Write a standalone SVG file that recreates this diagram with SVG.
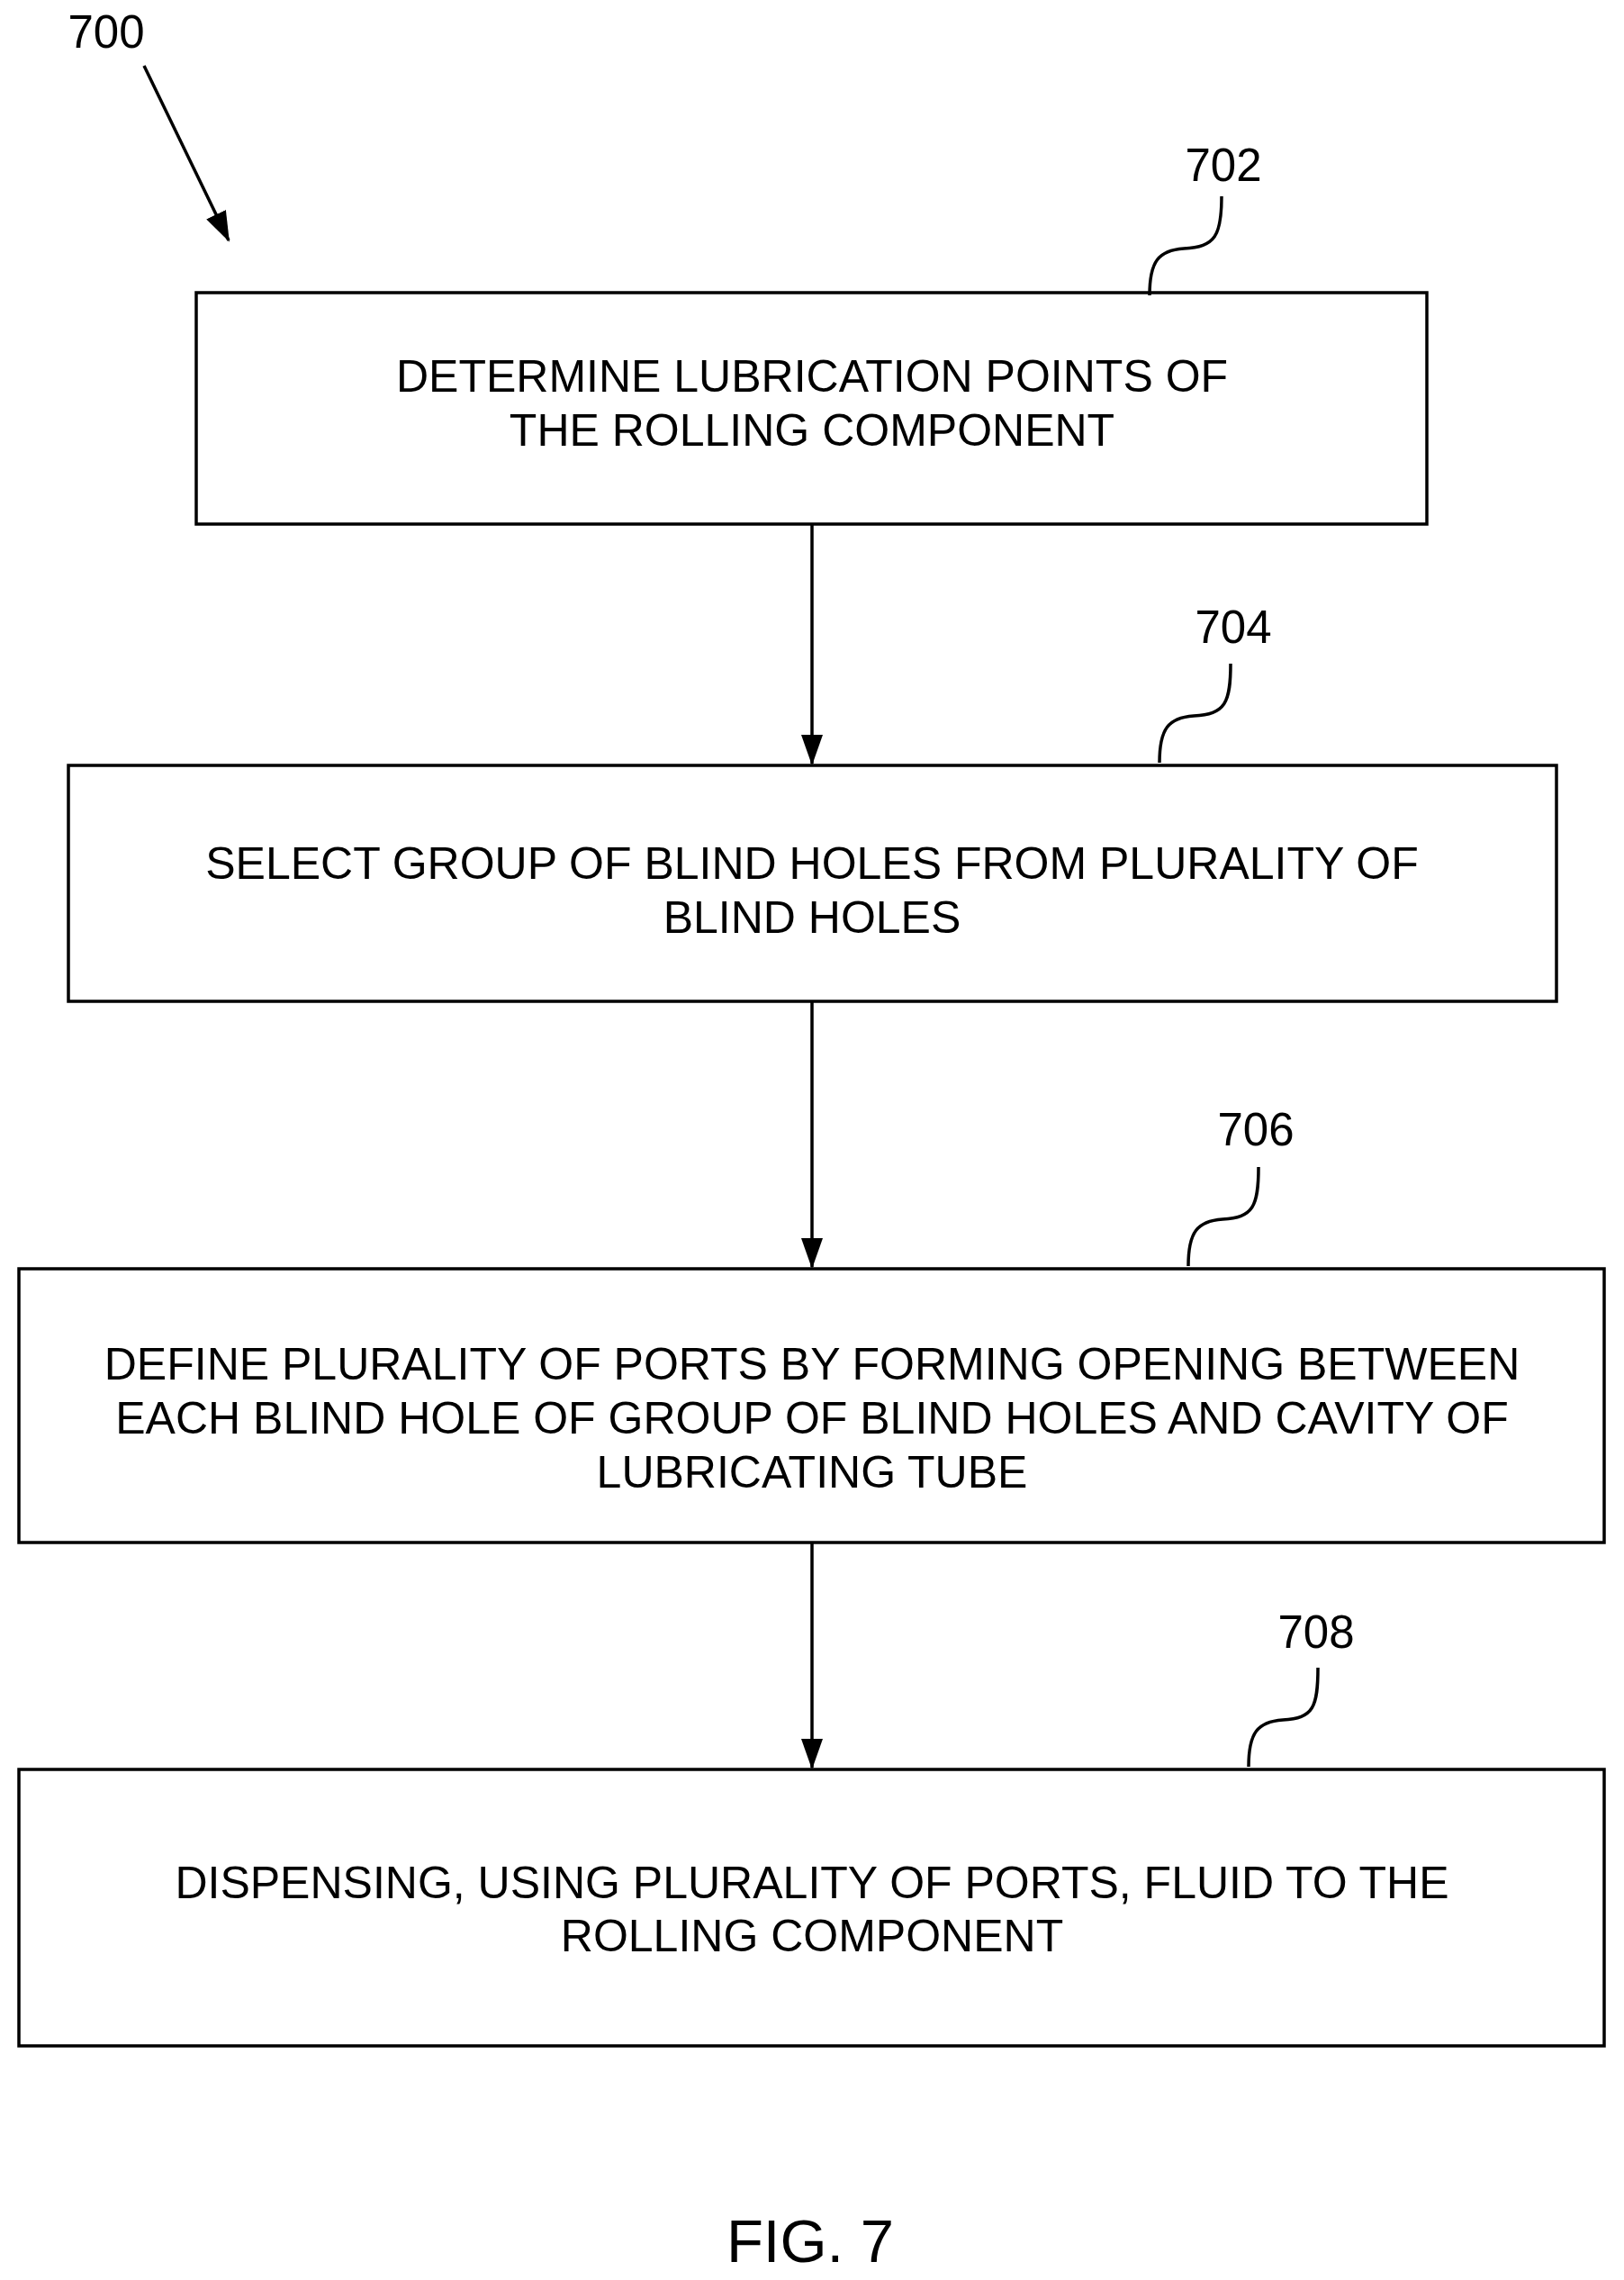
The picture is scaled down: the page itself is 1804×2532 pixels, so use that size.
<svg xmlns="http://www.w3.org/2000/svg" width="1804" height="2532" viewBox="0 0 1804 2532">
<style>
.box{fill:#fff;stroke:#000;stroke-width:3.5}
.t{font-family:"Liberation Sans",Arial,sans-serif;font-size:50px;text-anchor:middle;fill:#000}
.lbl{font-family:"Liberation Sans",Arial,sans-serif;font-size:51px;text-anchor:middle;fill:#000}
.c{stroke:#000;stroke-width:3.5;fill:none}
</style>
<defs>
<marker id="ah2" markerWidth="34" markerHeight="34" refX="32" refY="17" orient="auto" markerUnits="userSpaceOnUse" viewBox="0 0 34 34"><path d="M0,5 L34,17 L0,29z" fill="#000"/></marker></defs>
<rect width="1804" height="2532" fill="#fff"/>
<g id="n702"><rect class="box" x="218" y="325" width="1367" height="257"/><text class="t" x="902" y="435">DETERMINE LUBRICATION POINTS OF</text><text class="t" x="902" y="495">THE ROLLING COMPONENT</text><text class="lbl" x="1359" y="201">702</text></g>
<g id="n704"><rect class="box" x="76" y="850" width="1653" height="262"/><text class="t" x="902" y="976">SELECT GROUP OF BLIND HOLES FROM PLURALITY OF</text><text class="t" x="902" y="1036">BLIND HOLES</text><text class="lbl" x="1370" y="714">704</text></g>
<g id="n706"><rect class="box" x="21" y="1409" width="1761" height="304"/><text class="t" x="902" y="1532">DEFINE PLURALITY OF PORTS BY FORMING OPENING BETWEEN</text><text class="t" x="902" y="1592">EACH BLIND HOLE OF GROUP OF BLIND HOLES AND CAVITY OF</text><text class="t" x="902" y="1652">LUBRICATING TUBE</text><text class="lbl" x="1395" y="1272">706</text></g>
<g id="n708"><rect class="box" x="21" y="1965" width="1761" height="307"/><text class="t" x="902" y="2108">DISPENSING, USING PLURALITY OF PORTS, FLUID TO THE</text><text class="t" x="902" y="2167">ROLLING COMPONENT</text><text class="lbl" x="1462" y="1830">708</text></g>
<g id="n700"><text class="lbl" x="118" y="53">700</text></g>
<text class="t" x="900" y="2512" style="font-size:67px">FIG. 7</text>
<g id="connectors">
<path class="c" d="M902,582 V848" marker-end="url(#ah2)"/>
<path class="c" d="M902,1112 V1407" marker-end="url(#ah2)"/>
<path class="c" d="M902,1713 V1963" marker-end="url(#ah2)"/>
<path class="c" d="M160,73 L254,267" marker-end="url(#ah2)"/>
<path class="c" d="M1277,328 C1277,290 1287,278 1315,276 C1350,274 1357,262 1357,218"/>
<path class="c" d="M1288,847 C1288,809 1298,797 1326,795 C1361,793 1367,781 1367,737"/>
<path class="c" d="M1320,1406 C1320,1368 1330,1356 1358,1354 C1392,1352 1398,1340 1398,1296"/>
<path class="c" d="M1387,1962 C1387,1924 1397,1912 1425,1910 C1459,1908 1464,1896 1464,1852"/>
</g>
</svg>
